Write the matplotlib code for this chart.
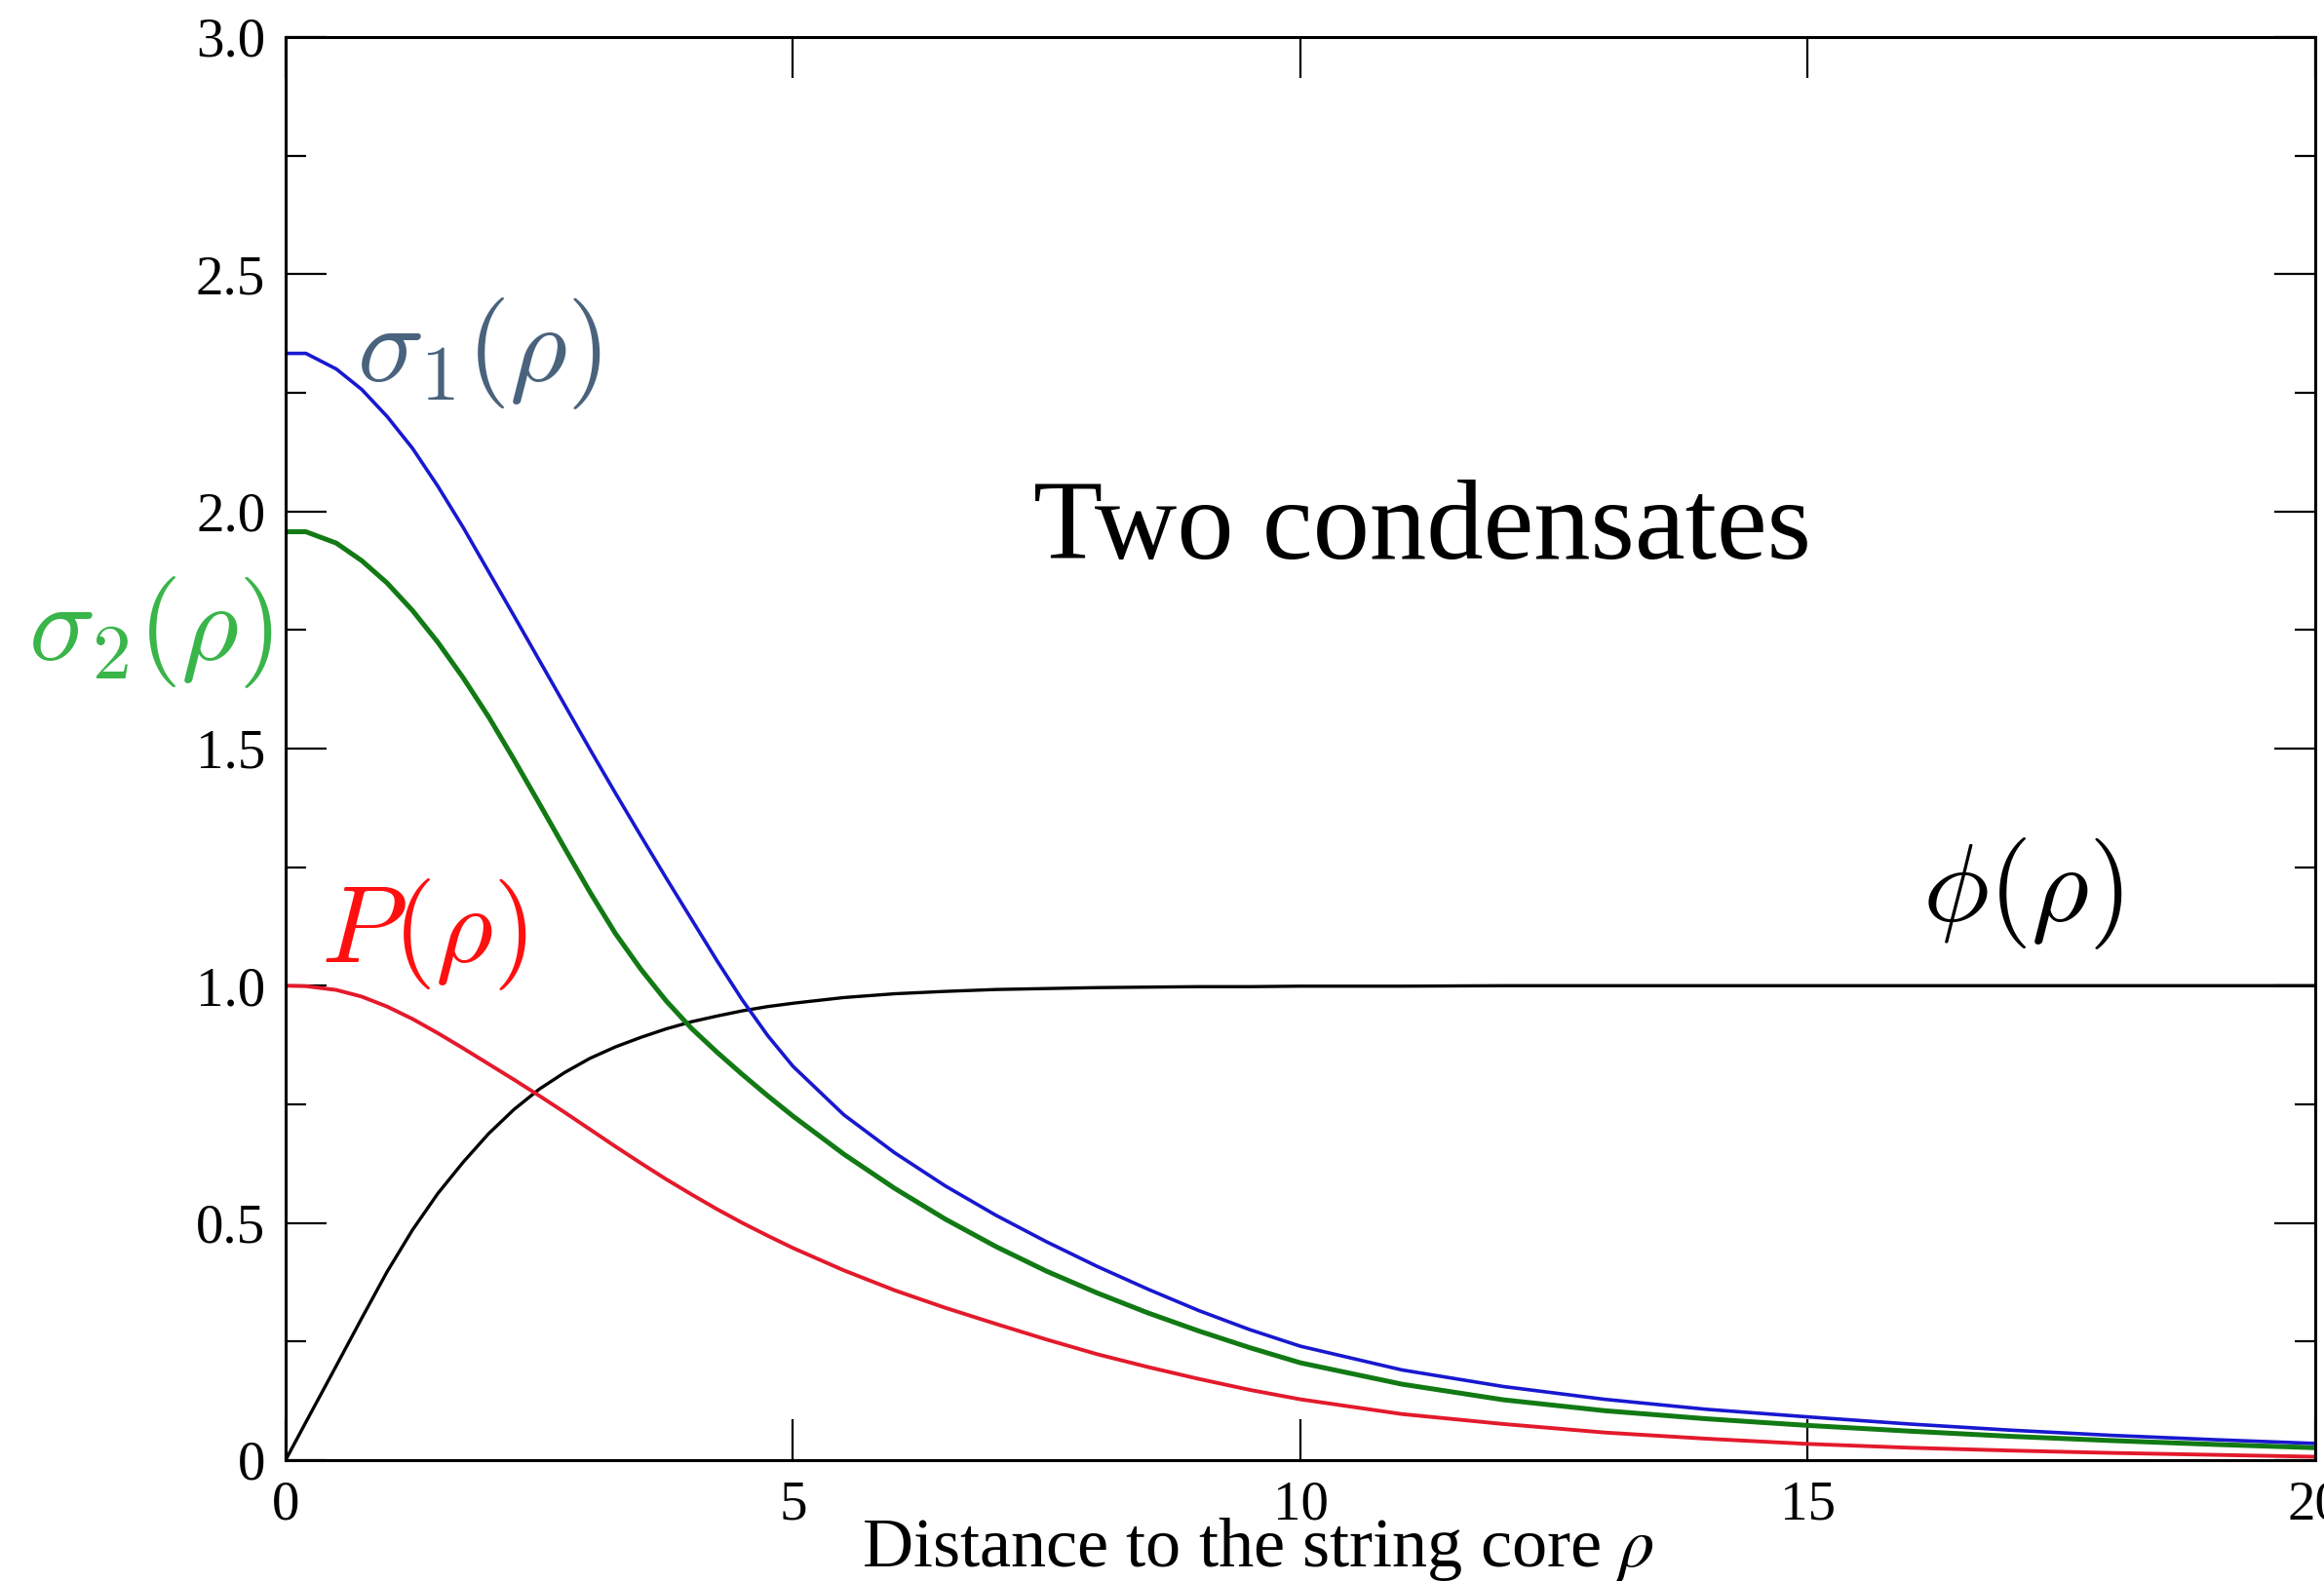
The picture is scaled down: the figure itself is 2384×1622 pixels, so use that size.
import numpy as np
import matplotlib.pyplot as plt
from matplotlib.ticker import MultipleLocator

plt.rcParams['font.family'] = ['Liberation Serif', 'DejaVu Serif']

# distance to the string core
rho = [0, 0.2, 0.5, 0.75, 1.0, 1.25, 1.5, 1.75, 2.0, 2.25, 2.5, 2.75, 3.0,
       3.25, 3.5, 3.75, 4.0, 4.25, 4.5, 4.75, 5.0, 5.5, 6.0, 6.5, 7.0, 7.5,
       8.0, 8.5, 9.0, 9.5, 10, 11, 12, 13, 14, 15, 16, 17, 18, 19, 20]

# condensate profiles
sigma1 = [2.333, 2.333, 2.30, 2.257, 2.20, 2.133, 2.053, 1.966, 1.873, 1.78,
          1.686, 1.592, 1.498, 1.406, 1.316, 1.227, 1.14, 1.053, 0.97, 0.895,
          0.83, 0.728, 0.648, 0.578, 0.516, 0.46, 0.408, 0.36, 0.315, 0.275,
          0.24, 0.19, 0.155, 0.128, 0.107, 0.091, 0.076, 0.063, 0.052, 0.043,
          0.035]
sigma2 = [1.957, 1.957, 1.933, 1.896, 1.849, 1.791, 1.724, 1.649, 1.567, 1.477,
          1.384, 1.29, 1.197, 1.11, 1.035, 0.968, 0.91, 0.86, 0.813, 0.768,
          0.725, 0.645, 0.573, 0.508, 0.45, 0.398, 0.352, 0.31, 0.272, 0.237,
          0.205, 0.16, 0.127, 0.104, 0.087, 0.073, 0.061, 0.05, 0.041, 0.033,
          0.026]
P = [1.0, 0.999, 0.991, 0.977, 0.956, 0.93, 0.9, 0.868, 0.835, 0.802, 0.768,
     0.733, 0.697, 0.661, 0.626, 0.592, 0.56, 0.529, 0.5, 0.473, 0.447, 0.4,
     0.358, 0.321, 0.287, 0.254, 0.223, 0.196, 0.171, 0.148, 0.128, 0.097,
     0.076, 0.058, 0.045, 0.034, 0.026, 0.02, 0.015, 0.011, 0.007]
phi = [0, 0.08, 0.199, 0.299, 0.397, 0.485, 0.562, 0.628, 0.688, 0.739,
       0.782, 0.817, 0.847, 0.871, 0.891, 0.909, 0.924, 0.936, 0.947, 0.956,
       0.963, 0.975, 0.983, 0.988, 0.992, 0.994, 0.996, 0.997, 0.998, 0.998,
       0.999, 0.999, 1.0, 1.0, 1.0, 1.0, 1.0, 1.0, 1.0, 1.0, 1.0]

xticks = [0, 5, 10, 15, 20]
xtick_labels = ['0', '5', '10', '15', '20']
yticks = [0, 0.5, 1.0, 1.5, 2.0, 2.5, 3.0]
ytick_labels = ['0', '0.5', '1.0', '1.5', '2.0', '2.5', '3.0']

fig = plt.figure(figsize=(23.84, 16.22), dpi=100)
ax = fig.add_axes([0.1229, 0.0765, 0.8733, 0.9001])

ax.plot(rho, phi, color='black', lw=2.4, solid_joinstyle='round')
ax.plot(rho, P, color='#e31a2c', lw=2.8, solid_joinstyle='round')
ax.plot(rho, sigma2, color='#127a14', lw=3.6, solid_joinstyle='round')
ax.plot(rho, sigma1, color='#1818d0', lw=2.6, solid_joinstyle='round')

ax.set_xlim(0, 20)
ax.set_ylim(0, 3)
ax.set_xticks(xticks)
ax.set_xticklabels(xtick_labels)
ax.set_yticks(yticks)
ax.set_yticklabels(ytick_labels)
ax.yaxis.set_minor_locator(MultipleLocator(0.25))

ax.tick_params(which='both', direction='in', top=True, right=True,
               width=1.6, labelsize=41, pad=15)
ax.tick_params(which='major', length=30)
ax.tick_params(which='minor', length=15)
for sp in ax.spines.values():
    sp.set_linewidth(2.2)

# curve labels
ax.text(1.90, 2.332, r'$\sigma_1(\rho)$', color='#4a637d', fontsize=82,
        math_fontfamily='cm', ha='center', va='center')
ax.text(-1.33, 1.746, r'$\sigma_2(\rho)$', color='#39b54a', fontsize=82,
        math_fontfamily='cm', ha='center', va='center', clip_on=False)
ax.text(1.36, 1.108, r'$P(\rho)$', color='#ff1010', fontsize=82,
        math_fontfamily='cm', ha='center', va='center')
ax.text(17.12, 1.194, r'$\phi(\rho)$', color='black', fontsize=82,
        math_fontfamily='cm', ha='center', va='center')

ax.text(11.2, 1.90, 'Two condensates', fontsize=84, ha='center', va='baseline')

ax.text(0.479, -0.0747, r'Distance to the string core $\rho$',
        transform=ax.transAxes, fontsize=52, ha='center', va='baseline',
        math_fontfamily='stix')

fig.savefig('out.png', dpi=100)
